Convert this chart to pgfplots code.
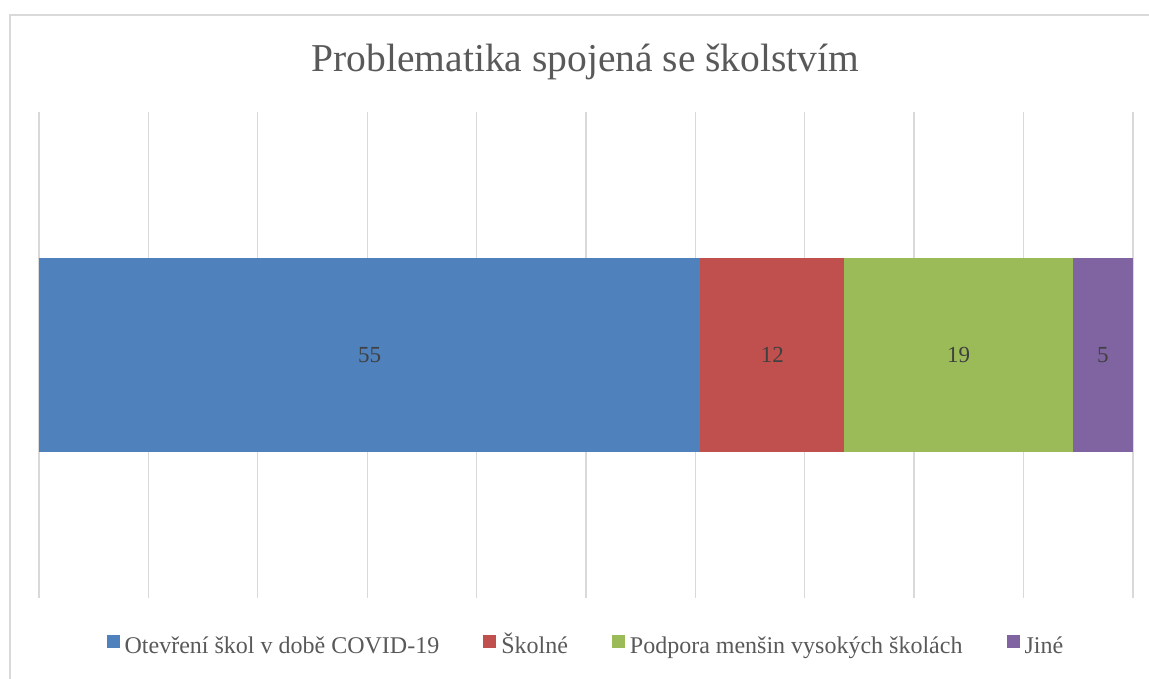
\documentclass[border=0pt]{standalone}
\usepackage{pgfplots}
\pgfplotsset{compat=1.18}
\usepackage{fontspec}
\setmainfont{Liberation Serif}
\definecolor{cblue}{HTML}{4F81BD}
\definecolor{cred}{HTML}{C0504D}
\definecolor{cgreen}{HTML}{9BBB59}
\definecolor{cpurple}{HTML}{8064A2}
\definecolor{gridc}{HTML}{D9D9D9}
\definecolor{txt}{HTML}{595959}
\definecolor{lbl}{HTML}{404040}
\begin{document}
\begin{tikzpicture}[x=1pt,y=1pt]
\useasboundingbox (0,0) rectangle (1149,679);
\draw[gridc, line width=1.3pt] (10,-5) -- (10,664) -- (1160,664);
\node[anchor=base, text=txt, font=\fontsize{39.5}{46}\selectfont] at (585.5,607.3) {Problematika spojená se školstvím};
\begin{axis}[
  at={(39pt,81pt)}, anchor=south west, scale only axis,
  width=1094pt, height=486pt,
  xbar stacked, bar width=194pt,
  xmin=0, xmax=91, ymin=-1, ymax=1,
  xtick={0,9.1,18.2,27.3,36.4,45.5,54.6,63.7,72.8,81.9,91},
  xticklabels={}, ytick=\empty, major tick length=0pt,
  xmajorgrids, grid style={gridc, line width=1.3pt},
  axis line style={draw=none},
  legend columns=4,
  legend style={draw=none, fill=none, at={(axis description cs:0.5,0)}, anchor=center,
    yshift=-50pt, xshift=0pt, font=\fontsize{24}{28}\selectfont, text=txt,
    nodes={text height=17pt, text depth=5pt},
    /tikz/every even column/.append style={column sep=42pt},
    /tikz/every odd column/.append style={column sep=3pt}},
  legend image code/.code={\fill[#1] (0pt,0pt) rectangle (13pt,13pt);},
]
\addplot[fill=cblue, draw=none] coordinates {(55,0)};
\addplot[fill=cred, draw=none] coordinates {(12,0)};
\addplot[fill=cgreen, draw=none] coordinates {(19,0)};
\addplot[fill=cpurple, draw=none] coordinates {(5,0)};
\legend{Otevření škol v době COVID-19, Školné, Podpora menšin vysokých školách, Jiné}
\end{axis}
\begin{axis}[
  at={(39pt,81pt)}, anchor=south west, scale only axis,
  width=1094pt, height=486pt,
  xmin=0, xmax=91, ymin=-1, ymax=1, hide axis,
]
\addplot[draw=none, mark=none, nodes near coords, point meta=explicit symbolic,
  nodes near coords align=center,
  every node near coord/.append style={text=lbl, font=\fontsize{23}{27}\selectfont}]
  coordinates {(27.5,0) [55] (61,0) [12] (76.5,0) [19] (88.5,0) [5]};
\end{axis}
\end{tikzpicture}
\end{document}
